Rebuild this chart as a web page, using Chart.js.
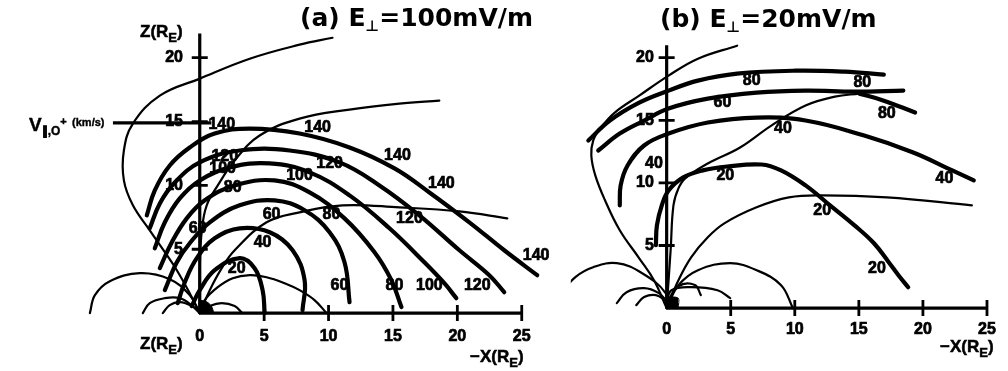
<!DOCTYPE html>
<html>
<head>
<meta charset="utf-8">
<script src="https://cdn.jsdelivr.net/npm/chart.js@4/dist/chart.umd.min.js"></script>
<style>
html,body{margin:0;padding:0;background:#fff;}
#wrap{position:relative;width:1008px;height:371px;overflow:hidden;background:#fff;}
canvas{position:absolute;top:0;}
#ca{left:0;}
#cb{left:560px;}
.t{position:absolute;font-family:"DejaVu Sans",sans-serif;font-weight:bold;font-size:25px;line-height:30px;white-space:nowrap;color:#000;}
.t sub{font-size:15px;vertical-align:-5px;line-height:0;}
.ax{position:absolute;font-family:"Liberation Sans",Arial,sans-serif;font-weight:bold;font-size:17px;line-height:20px;white-space:nowrap;color:#000;-webkit-text-stroke:0.5px #000;}
.ax sub{font-size:13px;vertical-align:-5px;line-height:0;}
.v{position:absolute;font-family:"Liberation Sans",Arial,sans-serif;font-weight:bold;font-size:19px;line-height:20px;white-space:nowrap;color:#000;-webkit-text-stroke:0.4px #000;}
.v sub{font-size:12px;vertical-align:-4px;line-height:0;}
.v sup{font-size:11px;vertical-align:6px;line-height:0;}
.v .km{font-size:11px;vertical-align:5px;}
</style>
</head>
<body>
<div id="wrap">
  <canvas id="ca" width="560" height="371"></canvas>
  <canvas id="cb" width="448" height="371"></canvas>
  <div class="t" style="left:300px;top:3px">(a) E<sub>⊥</sub>=100mV/m</div>
  <div class="t" style="left:660px;top:4px">(b) E<sub>⊥</sub>=20mV/m</div>
  <div class="ax" style="left:140px;top:22px">Z(R<sub>E</sub>)</div>
  <div class="ax" style="left:140px;top:334px">Z(R<sub>E</sub>)</div>
  <div class="ax" style="left:470px;top:347px">−X(R<sub>E</sub>)</div>
  <div class="ax" style="left:940px;top:337px">−X(R<sub>E</sub>)</div>
  <div class="v" style="left:29px;top:112px">V<sub>∥,O</sub><sup>+</sup> <span class="km">(km/s)</span></div>
</div>
<script>
// ---------- axis ticks ----------
const xTicks = [0, 5, 10, 15, 20, 25];
const yTicks = [5, 10, 15, 20];
const aAxisTop = 21.9;
const bAxisTop = 21.0;

// ---------- (a) E⊥ = 100 mV/m : O+ trajectories (thick), [-X, Z] in R_E ----------
const aTraj140 = [[-4.11,7.66],[-3.49,9.61],[-2.33,11.56],[-0.78,12.97],[1.16,14.06],[3.88,14.45],[7.75,14.06],[11.63,12.97],[15.12,11.33],[17.83,9.45],[20.93,7.11],[23.64,4.92],[26.2,2.97]];
const aTraj120 = [[-3.88,6.64],[-3.10,8.59],[-1.94,10.23],[0,11.80],[3.10,12.73],[6.98,12.73],[10.85,11.80],[13.95,10.0],[17.05,7.66],[20.16,4.92],[22.48,2.97],[23.64,1.64]];
const aTraj100 = [[-3.49,5.08],[-2.71,7.11],[-1.55,8.98],[0,10.39],[2.33,11.41],[5.43,11.72],[8.53,11.02],[11.63,9.22],[14.73,6.64],[17.44,3.98],[18.99,2.34],[19.92,1.17]];
const aTraj80 = [[-3.10,3.52],[-2.17,5.55],[-1.01,7.42],[0.39,8.83],[2.71,10.0],[5.81,10.39],[8.53,9.45],[11.24,7.42],[13.57,4.77],[14.88,2.58],[15.66,0.47]];
const aTraj60 = [[-2.71,1.80],[-1.78,3.98],[-0.78,5.47],[0.78,7.11],[3.10,8.44],[5.81,8.83],[8.14,8.05],[10.08,6.33],[11.24,3.98],[11.63,0.86]];
const aTraj40 = [[-1.71,0.78],[-1.16,2.42],[-0.23,4.30],[1.16,5.86],[3.10,6.64],[5.43,6.33],[7.21,4.92],[8.14,2.58],[7.98,0.23]];
const aTraj20 = [[-0.62,0.55],[0,1.80],[1.16,3.36],[3.10,4.30],[4.26,3.52],[4.88,1.80],[5.04,0]];

// (a) magnetic field lines (thin)
const aField1 = [[0,0],[-0.78,1.56],[-1.78,3.36],[-2.71,4.77],[-3.88,6.48],[-5.19,8.44],[-5.89,10.39],[-5.89,12.73],[-5.19,14.84],[-3.10,17.03],[0,18.36],[3.88,19.92],[7.75,21.02],[10.31,21.56]];
const aField2 = [[0,0],[0,3.36],[0.16,6.48],[0.54,8.44],[1.40,10.0],[2.71,11.95],[4.65,13.91],[7.75,15.23],[11.63,15.94],[15.5,16.41],[18.6,16.64]];
const aField3 = [[0,0],[0.78,1.80],[1.71,3.52],[2.71,4.92],[5.19,7.11],[7.75,7.89],[11.09,8.44],[15.5,8.28],[20.16,7.97],[23.88,7.42]];
const aLoop10 = [[0,0],[0.39,1.02],[1.40,2.03],[2.56,2.73],[3.88,2.97],[5.19,2.81],[6.59,2.34],[7.75,1.80],[8.91,1.02],[9.84,0]];
const aLoopR1 = [[0,0],[0.78,0.55],[1.71,0.78],[2.71,0.55],[3.3,0]];
const aLoopL1 = [[-8.53,0],[-8.14,1.41],[-6.98,2.5],[-4.65,3.13],[-2.33,2.66],[-0.78,1.41],[0,0]];
const aLoopL2 = [[-4.42,0],[-3.88,0.78],[-2.71,1.17],[-1.55,1.17],[-0.54,0.55],[0,0]];
const aLoopL3 = [[-2.87,0],[-2.33,0.63],[-1.55,0.86],[-0.62,0.55],[0,0]];
const aEarth = [[0,0],[0,0.95],[0.5,0.9],[0.9,0.55],[1.1,0]];
const aPointer = [[-6.74,14.9],[0.9,14.9]];

// (a) parallel speed annotations along trajectories (km/s)
const aSpeedLabels = [
  [1.71,14.77,'140'],[9.15,14.53,'140'],[15.35,12.34,'140'],[18.76,10.16,'140'],[26.12,4.53,'140'],
  [1.94,12.27,'120'],[10.08,11.72,'120'],[16.28,7.42,'120'],[21.55,2.19,'120'],
  [1.78,11.33,'100'],[7.75,10.78,'100'],[17.83,2.19,'100'],
  [2.56,9.84,'80'],[10.23,7.73,'80'],[15.12,2.19,'80'],
  [-0.16,6.64,'60'],[5.58,7.73,'60'],[10.85,2.19,'60'],
  [4.88,5.55,'40'],[2.87,3.52,'20']
];

// ---------- (b) E⊥ = 20 mV/m ----------
const bTraj80 = [[-6.11,13.39],[-4.43,14.98],[-2.14,16.41],[0.15,17.37],[2.44,18.17],[5.50,18.73],[10.08,18.96],[13.89,18.88],[16.95,18.65]];
const bTraj60 = [[-5.34,12.59],[-3.66,13.94],[-1.76,14.98],[0.15,15.94],[3.21,16.73],[7.02,17.21],[10.84,17.37],[14.66,17.29],[18.47,17.37]];
const bTraj40 = [[-3.66,8.21],[-3.59,9.80],[-3.05,11.39],[-1.76,12.99],[0.15,13.94],[3.21,14.82],[7.02,15.22],[10.84,14.98],[15.42,13.78],[19.24,12.43],[22.29,11.0],[23.97,10.20]];
const bTraj20 = [[-0.84,5.02],[-0.76,6.61],[-0.38,8.21],[0.15,9.40],[1.30,10.44],[2.82,11.0],[4.73,11.31],[7.40,11.47],[8.93,11.0],[10.84,9.80],[12.75,8.21],[14.66,6.61],[16.18,5.18],[17.33,3.67],[18.09,2.63],[18.85,1.67]];
const bDrop80 = [[15.04,17.13],[16.95,16.57],[19.39,15.62]];

const bField1 = [[0,0],[-0.99,2.23],[-2.14,3.98],[-3.66,6.22],[-4.81,8.61],[-5.57,10.60],[-5.88,12.19],[-5.73,13.39],[-5.19,14.34],[-4.05,15.62],[-2.14,16.97],[0.15,18.57],[2.44,19.92],[5.50,20.96]];
const bField2 = [[0,0],[0.31,4.62],[0.53,8.21],[0.92,9.56],[1.45,10.36],[3.21,11.55],[5.73,12.83],[8.17,14.58],[10.84,16.18],[13.13,16.89],[15.04,17.13]];
const bField3 = [[0,0],[0.92,2.23],[1.91,4.06],[3.21,5.66],[4.50,6.77],[7.02,8.05],[9.54,8.84],[12.14,9.0],[17.18,8.84],[23.82,8.21]];
const bLoop10 = [[0,0],[0.92,1.83],[2.44,3.03],[4.96,3.59],[7.02,3.03],[8.93,1.83],[9.85,0]];
const bLoopR1 = [[0,0.5],[0.38,1.43],[1.91,1.67],[3.97,1.43],[4.96,0.8]];
const bLoopR2 = [[0,0.4],[0.92,1.75],[2.2,1.85],[2.67,1.04]];
const bLoopL1 = [[-8.1,0.2],[-7.95,1.4],[-7.1,2.5],[-5.73,3.27],[-3.89,3.59],[-1.91,2.79],[-0.08,1.2],[0,0]];
const bLoopL2 = [[-3.89,0.4],[-3.13,1.27],[-1.76,1.59],[-0.61,1.2],[0,0.56]];
const bLoopL3 = [[-2.37,0.24],[-1.76,0.88],[-0.84,1.04],[0,0.56]];
const bEarth = [[0,0],[0,0.8],[0.9,0.8],[0.9,0]];

const bSpeedLabels = [
  [6.64,18.17,'80'],[15.27,18.01,'80'],[4.35,16.41,'60'],[17.18,15.54,'80'],
  [9.08,14.34,'40'],[-0.99,11.55,'40'],[21.68,10.36,'40'],
  [4.58,10.60,'20'],[12.14,7.81,'20'],[16.41,3.19,'20']
];

// ---------- drawing helpers ----------
const FONT = "'Liberation Sans', Arial, sans-serif";
Chart.defaults.font.family = FONT;

const pts = arr => arr.map(([x, y]) => ({x, y}));

function curve(arr, width) {
  return {data: pts(arr), showLine: true, borderColor: '#000', borderWidth: width,
    pointRadius: 0, tension: 0.4, fill: false, borderCapStyle: 'round', borderJoinStyle: 'round'};
}
function straight(arr, width) {
  return {data: pts(arr), showLine: true, borderColor: '#000', borderWidth: width,
    pointRadius: 0, tension: 0, fill: false, borderCapStyle: 'butt'};
}
function blob(arr) {
  return {data: pts(arr), showLine: true, borderColor: '#000', borderWidth: 1,
    backgroundColor: '#000', pointRadius: 0, tension: 0.3, fill: 'origin'};
}
function axisLines(top) {
  return [
    straight([[0, 0], [xTicks[xTicks.length - 1], 0]], 3.2),
    straight([[0, 0], [0, top]], 3.2)
  ];
}
function tickMarks() {
  return [
    {data: xTicks.filter(v => v > 0).map(v => ({x: v, y: 0})), showLine: false,
      pointStyle: 'line', pointRadius: 8, pointRotation: 90, pointBorderColor: '#000', pointBorderWidth: 2.8},
    {data: yTicks.map(v => ({x: 0, y: v})), showLine: false,
      pointStyle: 'line', pointRadius: 8, pointRotation: 0, pointBorderColor: '#000', pointBorderWidth: 2.8}
  ];
}

// speed annotations placed through the chart's own scales
const speedLabels = {
  id: 'speedLabels',
  afterDatasetsDraw(chart, args, opts) {
    const {ctx, scales: {x, y}} = chart;
    ctx.save();
    ctx.font = opts.font;
    ctx.fillStyle = '#000';
    ctx.strokeStyle = '#000';
    ctx.lineWidth = 0.7;
    ctx.textAlign = 'center';
    ctx.textBaseline = 'middle';
    (opts.items || []).forEach(([vx, vy, t]) => {
      const px = x.getPixelForValue(vx), py = y.getPixelForValue(vy);
      ctx.fillText(t, px, py);
      ctx.strokeText(t, px, py);
    });
    ctx.restore();
  }
};

function scaleSet(xmin, xmax, ymin, ymax, yLabelAt, xPad) {
  const tickFont = {family: FONT, weight: 'bold', size: 16};
  const common = {font: tickFont, color: '#000', autoSkip: false, textStrokeColor: '#000', textStrokeWidth: 0.7};
  return {
    x: {type: 'linear', min: xmin, max: xmax, position: {y: 0},
      grid: {display: false, drawTicks: false}, border: {display: false},
      afterBuildTicks: s => { s.ticks = xTicks.map(v => ({value: v})); },
      ticks: {...common, padding: xPad, maxRotation: 0}},
    y: {type: 'linear', min: ymin, max: ymax, position: {x: yLabelAt},
      grid: {display: false, drawTicks: false}, border: {display: false},
      afterBuildTicks: s => { s.ticks = yTicks.map(v => ({value: v})); },
      ticks: {...common, padding: 0}}
  };
}

function makeChart(id, datasets, scales, labels, padding) {
  return new Chart(document.getElementById(id), {
    type: 'scatter',
    data: {datasets},
    options: {
      responsive: false, animation: false, events: [],
      layout: {padding},
      scales,
      plugins: {
        legend: {display: false}, tooltip: {enabled: false},
        speedLabels: {items: labels, font: "bold 16px " + FONT}
      }
    },
    plugins: [speedLabels]
  });
}

// ---------- panel (a) ----------
const THICK = 4.2, THIN = 2.2;
makeChart('ca', [
  ...axisLines(aAxisTop), ...tickMarks(),
  curve(aField1, THIN), curve(aField2, THIN), curve(aField3, THIN), curve(aLoop10, THIN),
  curve(aLoopR1, THIN), curve(aLoopL1, THIN), curve(aLoopL2, THIN), curve(aLoopL3, THIN),
  curve(aTraj140, THICK), curve(aTraj120, THICK), curve(aTraj100, THICK), curve(aTraj80, THICK),
  curve(aTraj60, THICK), curve(aTraj40, THICK), curve(aTraj20, THICK),
  straight(aPointer, 3.2), blob(aEarth)
], scaleSet(-12.403, 27.132, -3.672, 23.672, -1.3, 14), aSpeedLabels,
  {left: 40, right: 10, top: 10, bottom: 11});

// ---------- panel (b) ----------
makeChart('cb', [
  ...axisLines(bAxisTop), ...tickMarks(),
  curve(bField1, THIN), curve(bField2, THIN), curve(bField3, THIN), curve(bLoop10, THIN),
  curve(bLoopR1, THIN), curve(bLoopR2, THIN), curve(bLoopL1, THIN), curve(bLoopL2, THIN), curve(bLoopL3, THIN),
  curve(bTraj80, THICK), curve(bTraj60, THICK), curve(bTraj40, THICK), curve(bTraj20, THICK),
  curve(bDrop80, THICK), blob(bEarth)
], scaleSet(-7.481, 25.344, -4.143, 23.745, -1.0, 12), bSpeedLabels,
  {left: 10, right: 8, top: 10, bottom: 11});
</script>
</body>
</html>
